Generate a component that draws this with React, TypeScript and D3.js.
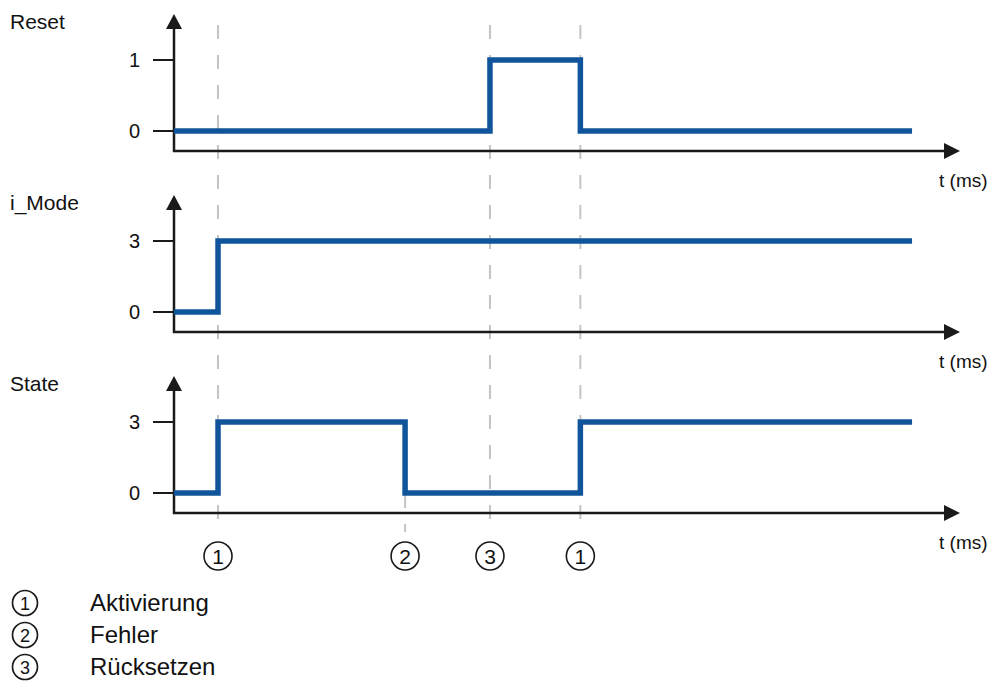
import React from "react";
import * as d3 from "d3";

// time axis (arbitrary ms units) and the three signals
const resetTimes = [0, 40.2, 51.7, 93.9];
const resetValues = [0, 1, 0, 0];
const modeTimes = [0, 5.6, 93.9];
const modeValues = [0, 3, 3];
const stateTimes = [0, 5.6, 29.4, 51.7, 93.9];
const stateValues = [0, 3, 0, 3, 3];

const panelNames = ["Reset", "i_Mode", "State"];
const panelTicks = [[0, 1], [0, 3], [0, 3]];

const eventTimes = [5.6, 29.4, 40.2, 51.7];
const eventLabels = ["1", "2", "3", "1"];

const legendNumbers = ["1", "2", "3"];
const legendTexts = ["Aktivierung", "Fehler", "Rücksetzen"];

const W = 999;
const H = 691;
const FONT = "'Liberation Sans', Arial, sans-serif";
const BLUE = "#10559c";
const AXIS = "#1a1a1a";

const x0 = 174;
const axisYs = [151, 332, 513];

const xScale = d3.scaleLinear().domain([0, 100]).range([x0, 960]);

function Panel({ idx, times, values }: { idx: number; times: number[]; values: number[] }) {
  const axisY = axisYs[idx];
  const ticks = panelTicks[idx];
  const yScale = d3
    .scaleLinear()
    .domain([ticks[0], ticks[1]])
    .range([axisY - 20, axisY - 91]);

  const line = d3
    .line<number>()
    .x((_, i) => xScale(times[i]))
    .y((d) => yScale(d))
    .curve(d3.curveStepAfter);

  const xEnd = xScale(100);
  const yTop = axisY - 137;

  return (
    <g>
      <text x={10} y={axisY - 122} fontSize={21} fontFamily={FONT} fill="#111">
        {panelNames[idx]}
      </text>
      {/* y axis with arrow */}
      <line x1={x0} x2={x0} y1={axisY + 1} y2={yTop + 14} stroke={AXIS} strokeWidth={2.5} />
      <path
        d={`M${x0},${yTop} L${x0 + 8},${yTop + 15} L${x0 - 8},${yTop + 15} Z`}
        fill={AXIS}
      />
      {/* x axis with arrow */}
      <line x1={x0 - 1} x2={xEnd - 15} y1={axisY} y2={axisY} stroke={AXIS} strokeWidth={2.5} />
      <path
        d={`M${xEnd},${axisY} L${xEnd - 16},${axisY - 8} L${xEnd - 16},${axisY + 8} Z`}
        fill={AXIS}
      />
      <text x={939} y={axisY + 36} fontSize={19} fontFamily={FONT} fill="#111">
        t (ms)
      </text>
      {ticks.map((t) => (
        <g key={t}>
          <line x1={153} x2={x0} y1={yScale(t)} y2={yScale(t)} stroke={AXIS} strokeWidth={2} />
          <text
            x={140}
            y={yScale(t) + 7}
            textAnchor="end"
            fontSize={20}
            fontFamily={FONT}
            fill="#111"
          >
            {t}
          </text>
        </g>
      ))}
      <path d={line(values) || ""} fill="none" stroke={BLUE} strokeWidth={5.5} />
    </g>
  );
}

export default function App() {
  const dash = "14 16";
  return (
    <div style={{ position: "absolute", left: 0, top: 0 }}>
      <svg width={W} height={H} style={{ display: "block", background: "#fff" }}>
        {/* dashed event guides */}
        {eventTimes.map((t, i) => {
          const x = xScale(t);
          const y1 = i === 1 ? 494 : 25;
          const y2 = i === 1 ? 532 : 522;
          return (
            <line
              key={i}
              x1={x}
              x2={x}
              y1={y1}
              y2={y2}
              stroke="#c4c4c4"
              strokeWidth={2}
              strokeDasharray={dash}
            />
          );
        })}
        <Panel idx={0} times={resetTimes} values={resetValues} />
        <Panel idx={1} times={modeTimes} values={modeValues} />
        <Panel idx={2} times={stateTimes} values={stateValues} />
        {/* event markers */}
        {eventTimes.map((t, i) => (
          <g key={i}>
            <circle cx={xScale(t)} cy={556} r={14} fill="#fff" stroke={AXIS} strokeWidth={1.6} />
            <text
              x={xScale(t)}
              y={563.5}
              textAnchor="middle"
              fontSize={21}
              fontFamily={FONT}
              fill="#111"
            >
              {eventLabels[i]}
            </text>
          </g>
        ))}
        {/* legend */}
        {legendNumbers.map((n, i) => {
          const cy = 603 + i * 32;
          return (
            <g key={n}>
              <circle cx={25} cy={cy} r={12.5} fill="none" stroke={AXIS} strokeWidth={1.7} />
              <text x={25} y={cy + 6.5} textAnchor="middle" fontSize={18} fontFamily={FONT} fill="#111">
                {n}
              </text>
              <text x={90} y={cy + 8} fontSize={24} fontFamily={FONT} fill="#111">
                {legendTexts[i]}
              </text>
            </g>
          );
        })}
      </svg>
    </div>
  );
}
